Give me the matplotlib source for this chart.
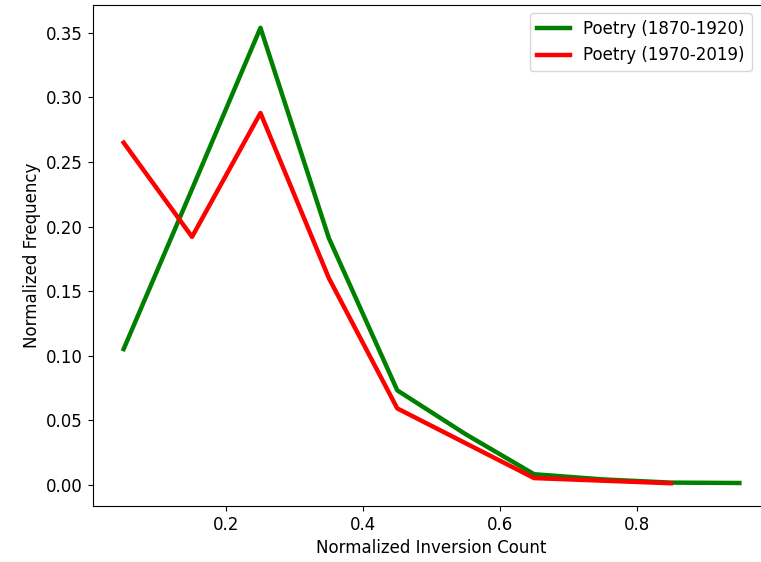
import numpy as np
import matplotlib.pyplot as plt

# Dados
x_old = np.array([0.05, 0.15, 0.25, 0.35, 0.45, 0.55, 0.65, 0.75, 0.85, 0.95])
freq_old = np.array([0.105, 0.229, 0.354, 0.191, 0.073, 0.039, 0.008, 0.004, 0.0015, 0.0012])

x_new = np.array([0.05, 0.15, 0.25, 0.35, 0.45, 0.55, 0.65, 0.75, 0.85])
freq_new = np.array([0.265, 0.192, 0.288, 0.160, 0.059, 0.032, 0.005, 0.003, 0.001])

plt.rcParams['font.size'] = 12

fig, ax = plt.subplots(figsize=(7.61, 5.62), dpi=100)
# a borda direita fica fora da imagem, como no original
fig.subplots_adjust(left=0.122, right=1.012, top=0.991, bottom=0.0996)

ax.plot(x_old, freq_old, color='green', linewidth=3.2, label='Poetry (1870-1920)')
ax.plot(x_new, freq_new, color='red', linewidth=3.2, label='Poetry (1970-2019)')

ax.set_xlabel('Normalized Inversion Count')
ax.set_ylabel('Normalized Frequency')
ax.set_xticks([0.2, 0.4, 0.6, 0.8])
ax.set_yticks(np.arange(0, 0.36, 0.05))
ax.legend(loc='upper right', bbox_to_anchor=(0.985, 1.0))

fig.savefig('out.png', dpi=100)
